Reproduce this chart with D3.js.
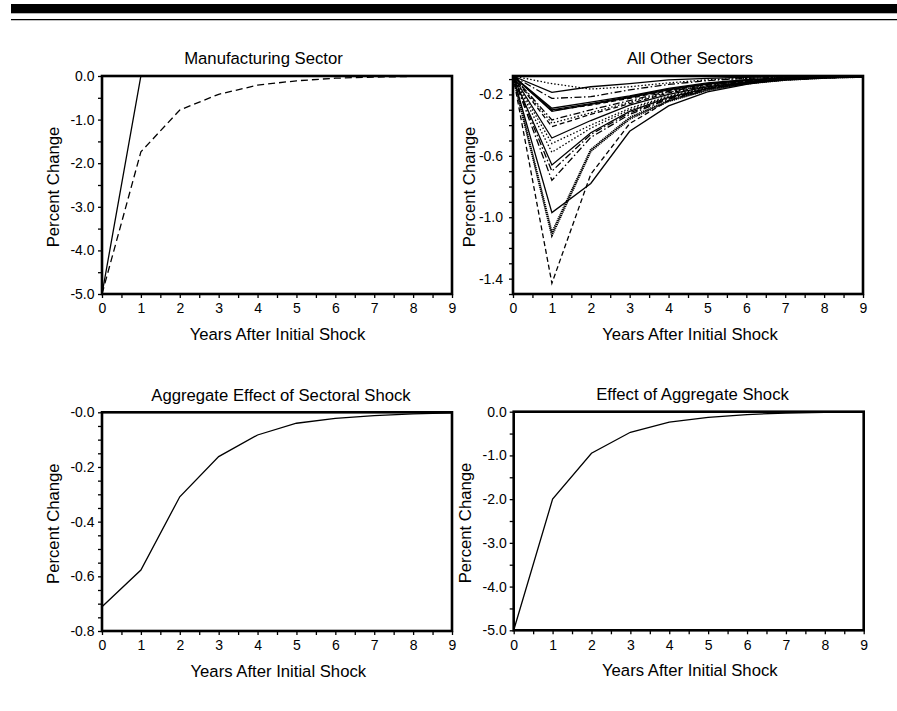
<!DOCTYPE html>
<meta charset="utf-8">
<head>
    <title>Sectoral shocks</title>
</head>
<style>
    body { margin: 0; background: #fff; }
    text { font-family: "Liberation Sans", Arial, Helvetica, sans-serif; fill: #000; }
</style>
<div id="graph_div"></div>
<script src="https://d3js.org/d3.v7.min.js"></script>
<script>
    // data
    var years = [0, 1, 2, 3, 4, 5, 6, 7, 8, 9];

    var mfgDirect = [-5.0, 0, 0, 0, 0, 0, 0, 0, 0, 0];
    var mfgTotal = [-5.0, -1.74, -0.78, -0.42, -0.21, -0.11, -0.05, -0.025, -0.01, -0.005];

    var aggSectoral = [-0.711, -0.577, -0.309, -0.162, -0.083, -0.040, -0.022, -0.012, -0.006, -0.002];
    var aggShock = [-5.0, -2.0, -0.95, -0.47, -0.24, -0.13, -0.065, -0.03, -0.015, -0.01];

    var otherSectors = [
        [-0.08, -0.187, -0.15, -0.13, -0.105, -0.095, -0.088, -0.084, -0.082, -0.081],
        [-0.08, -0.13, -0.165, -0.15, -0.125, -0.105, -0.095, -0.088, -0.084, -0.082],
        [-0.08, -0.226, -0.215, -0.17, -0.135, -0.11, -0.095, -0.088, -0.084, -0.082],
        [-0.08, -0.29, -0.25, -0.21, -0.16, -0.125, -0.104, -0.092, -0.086, -0.082],
        [-0.08, -0.30, -0.26, -0.215, -0.165, -0.13, -0.106, -0.093, -0.086, -0.083],
        [-0.08, -0.31, -0.265, -0.22, -0.17, -0.133, -0.108, -0.094, -0.087, -0.083],
        [-0.08, -0.305, -0.27, -0.225, -0.175, -0.135, -0.11, -0.095, -0.087, -0.083],
        [-0.08, -0.366, -0.30, -0.24, -0.18, -0.14, -0.112, -0.096, -0.088, -0.083],
        [-0.08, -0.387, -0.32, -0.25, -0.185, -0.143, -0.114, -0.097, -0.088, -0.084],
        [-0.08, -0.41, -0.33, -0.26, -0.19, -0.146, -0.116, -0.098, -0.089, -0.084],
        [-0.08, -0.484, -0.37, -0.27, -0.2, -0.15, -0.118, -0.1, -0.09, -0.084],
        [-0.08, -0.52, -0.40, -0.29, -0.21, -0.155, -0.12, -0.1, -0.09, -0.085],
        [-0.08, -0.577, -0.42, -0.30, -0.215, -0.158, -0.122, -0.102, -0.091, -0.085],
        [-0.08, -0.66, -0.45, -0.31, -0.22, -0.16, -0.124, -0.103, -0.091, -0.085],
        [-0.08, -0.70, -0.46, -0.32, -0.225, -0.162, -0.125, -0.104, -0.092, -0.085],
        [-0.08, -0.76, -0.48, -0.33, -0.23, -0.165, -0.127, -0.105, -0.092, -0.085],
        [-0.08, -0.97, -0.78, -0.44, -0.275, -0.183, -0.134, -0.10, -0.09, -0.085],
        [-0.08, -1.10, -0.56, -0.35, -0.24, -0.17, -0.128, -0.105, -0.092, -0.085],
        [-0.08, -1.12, -0.57, -0.36, -0.245, -0.172, -0.13, -0.106, -0.093, -0.086],
        [-0.08, -1.43, -0.72, -0.39, -0.24, -0.16, -0.12, -0.10, -0.09, -0.085]
    ];
    var otherStyles = ["solid", "dotted", "dashdot", "solid", "solid", "solid", "dashed",
        "dashdot", "dotted", "dashed", "solid", "dotted", "dotted", "solid", "dashdot",
        "dashdot", "solid", "dense", "dense", "dashed"];

    var xLabels = [0, 1, 2, 3, 4, 5, 6, 7, 8, 9];
    var xMinor = [0.5, 1.5, 2.5, 3.5, 4.5, 5.5, 6.5, 7.5, 8.5];

    var bigTicks = [0, -1, -2, -3, -4, -5];
    var bigTickLabels = ["0.0", "-1.0", "-2.0", "-3.0", "-4.0", "-5.0"];
    var bigMinor = [-0.5, -1.5, -2.5, -3.5, -4.5];

    var otherTicks = [-0.2, -0.6, -1.0, -1.4];
    var otherTickLabels = ["-0.2", "-0.6", "-1.0", "-1.4"];
    var otherMinor = [-0.1, -0.3, -0.4, -0.5, -0.7, -0.8, -0.9, -1.1, -1.2, -1.3, -1.5];

    var aggTicks = [0, -0.2, -0.4, -0.6, -0.8];
    var aggTickLabels = ["-0.0", "-0.2", "-0.4", "-0.6", "-0.8"];
    var aggMinor = [-0.05, -0.1, -0.15, -0.25, -0.3, -0.35, -0.45, -0.5, -0.55, -0.65, -0.7, -0.75];

    var dashes = {
        solid: null,
        dashed: "5,3",
        longdash: "7,4",
        dotted: "1.5,2",
        dashdot: "7,2.5,1.5,2.5",
        dense: "1.2,0.8"
    };

    var svg = d3.select("#graph_div")
      .append("svg")
        .attr("width", 897)
        .attr("height", 711);

    // header rules
    svg.append("rect").attr("x", 11).attr("y", 4).attr("width", 886).attr("height", 9.3).attr("fill", "#000");
    svg.append("line").attr("x1", 11).attr("x2", 897).attr("y1", 19.6).attr("y2", 19.6)
        .attr("stroke", "#000").attr("stroke-width", 1.4);

    function panel(p) {
        var x = d3.scaleLinear().domain([0, 9]).range([p.x0, p.x1]);
        var y = d3.scaleLinear().domain(p.yDomain).range([p.y1, p.y0]);
        var g = svg.append("g");

        var fmt = function(d) { return p.labels[p.ticks.indexOf(d)]; };

        function style(a) {
            a.select(".domain").remove();
            a.selectAll("line").attr("stroke", "#000").attr("stroke-width", 1.3);
            a.selectAll("text").attr("font-size", 14).attr("fill", "#000");
            a.attr("font-family", null).attr("font-size", 14);
        }

        g.append("g").attr("transform", "translate(0," + p.y1 + ")")
            .call(d3.axisBottom(x).tickValues(xMinor).tickSize(4).tickFormat(""))
            .call(style);
        g.append("g").attr("transform", "translate(0," + p.y1 + ")")
            .call(d3.axisBottom(x).tickValues(xLabels).tickSize(4).tickPadding(5.5).tickFormat(d3.format("d")))
            .call(style);
        g.append("g").attr("transform", "translate(" + p.x0 + ",0)")
            .call(d3.axisLeft(y).tickValues(p.minor).tickSize(4).tickFormat(""))
            .call(style);
        g.append("g").attr("transform", "translate(" + p.x0 + ",0)")
            .call(d3.axisLeft(y).tickValues(p.ticks).tickSize(4).tickPadding(p.pad).tickFormat(fmt))
            .call(style);

        var line = d3.line()
            .x(function(d, i) { return x(years[i]); })
            .y(function(d) { return y(d); });

        p.series.forEach(function(s, i) {
            var st = p.styles[i];
            g.append("path")
                .datum(s)
                .attr("d", line)
                .attr("fill", "none")
                .attr("stroke", "#000")
                .attr("stroke-width", st == "dense" ? 1.9 : 1.3)
                .attr("stroke-dasharray", dashes[st]);
        });

        g.append("rect")
            .attr("x", p.x0).attr("y", p.y0)
            .attr("width", p.x1 - p.x0).attr("height", p.y1 - p.y0)
            .attr("fill", "none").attr("stroke", "#000").attr("stroke-width", 2.6);

        g.append("text")
            .attr("x", p.titleX).attr("y", p.y0 - 11.7)
            .attr("text-anchor", "middle").attr("font-size", 16.7)
            .text(p.title);
        g.append("text")
            .attr("x", p.xTitleX).attr("y", p.y1 + 46)
            .attr("text-anchor", "middle").attr("font-size", 16.7)
            .text("Years After Initial Shock");
        g.append("text")
            .attr("transform", "translate(" + (p.x0 - p.yTitleOff) + "," + ((p.y0 + p.y1) / 2 + 2) + ") rotate(-90)")
            .attr("text-anchor", "middle").attr("dominant-baseline", "central").attr("font-size", 16.7)
            .text("Percent Change");
    }

    panel({
        title: "Manufacturing Sector", titleX: 263.5, xTitleX: 277.5, yTitleOff: 48.5,
        x0: 102, x1: 452, y0: 76, y1: 294, pad: 3.5,
        yDomain: [-5, 0], ticks: bigTicks, labels: bigTickLabels, minor: bigMinor,
        series: [mfgDirect, mfgTotal], styles: ["solid", "longdash"]
    });

    panel({
        title: "All Other Sectors", titleX: 690, xTitleX: 690, yTitleOff: 43.7,
        x0: 513, x1: 863, y0: 76, y1: 294, pad: 6,
        yDomain: [-1.5, -0.08], ticks: otherTicks, labels: otherTickLabels, minor: otherMinor,
        series: otherSectors, styles: otherStyles
    });

    panel({
        title: "Aggregate Effect of Sectoral Shock", titleX: 281, xTitleX: 278.3, yTitleOff: 48.3,
        x0: 102, x1: 452, y0: 412.3, y1: 631, pad: 3.5,
        yDomain: [-0.8, 0], ticks: aggTicks, labels: aggTickLabels, minor: aggMinor,
        series: [aggSectoral], styles: ["solid"]
    });

    panel({
        title: "Effect of Aggregate Shock", titleX: 692.5, xTitleX: 689.8, yTitleOff: 48.4,
        x0: 513.7, x1: 863.7, y0: 411.7, y1: 630.3, pad: 3,
        yDomain: [-5, 0], ticks: bigTicks, labels: bigTickLabels, minor: bigMinor,
        series: [aggShock], styles: ["solid"]
    });
</script>
